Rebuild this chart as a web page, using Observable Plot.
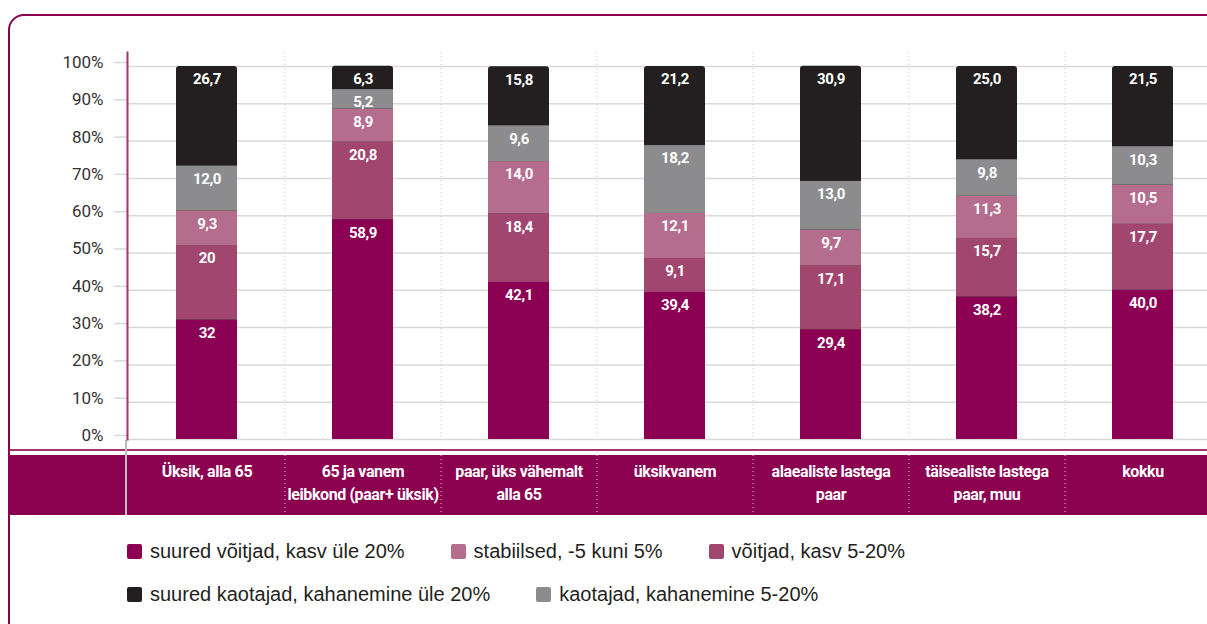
<!DOCTYPE html>
<html><head><meta charset="utf-8">
<script src="https://cdn.jsdelivr.net/npm/d3@7"></script>
<script src="https://cdn.jsdelivr.net/npm/@observablehq/plot@0.6"></script>
<style>
html,body{margin:0;padding:0;background:#fff;overflow:hidden;width:1207px;height:624px}
#wrap{position:relative;width:1207px;height:624px;overflow:hidden}
#frame{position:absolute;left:8px;top:14px;width:1400px;height:800px;border:2px solid #8c0050;border-radius:16px;box-sizing:border-box}
#bandline{position:absolute;left:10px;top:449px;width:1300px;height:2px;background:#a3306f}
#band{position:absolute;left:10px;top:455px;width:1300px;height:60px;background:#8c0050}
#bandsep{position:absolute;left:125px;top:440px;width:2px;height:75px;background:#bdbdbd}
#chart{position:absolute;left:0;top:0}
#legend{position:absolute;left:127px;top:538px;font-family:"Liberation Sans",Arial,sans-serif;font-size:20px;color:#231f20}
.row{display:flex;align-items:center;height:26px;margin-bottom:17px;white-space:nowrap}
.item{display:flex;align-items:center;margin-right:46px}
.sw{width:15px;height:15px;border-radius:2px;margin-right:8px}
.tight text{letter-spacing:-0.4px}
</style></head>
<body><div id="wrap">
<div id="frame"></div>
<div id="bandline"></div>
<div id="band"></div>
<div id="bandsep"></div>
<div id="chart"></div>
<div id="legend"></div>
</div>
<script>
const categories = ["Üksik, alla 65", "65 ja vanem\nleibkond (paar+ üksik)", "paar, üks vähemalt\nalla 65", "üksikvanem", "alaealiste lastega\npaar", "täisealiste lastega\npaar, muu", "kokku"];
const seriesNames = ["suured võitjad, kasv üle 20%", "võitjad, kasv 5-20%", "stabiilsed, -5 kuni 5%", "kaotajad, kahanemine 5-20%", "suured kaotajad, kahanemine üle 20%"];
const seriesColors = ["#8b0052", "#a0466f", "#b56d8e", "#8c8c8e", "#231f20"];
// values as printed on the bars (bottom to top)
const suuredVoitjad  = ["32",   "58,9", "42,1", "39,4", "29,4", "38,2", "40,0"];
const voitjad        = ["20",   "20,8", "18,4", "9,1",  "17,1", "15,7", "17,7"];
const stabiilsed     = ["9,3",  "8,9",  "14,0", "12,1", "9,7",  "11,3", "10,5"];
const kaotajad       = ["12,0", "5,2",  "9,6",  "18,2", "13,0", "9,8",  "10,3"];
const suuredKaotajad = ["26,7", "6,3",  "15,8", "21,2", "30,9", "25,0", "21,5"];
const yTicks = [0, 10, 20, 30, 40, 50, 60, 70, 80, 90, 100];
const legendRows = [[0, 2, 1], [4, 3]];

const seriesValues = [suuredVoitjad, voitjad, stabiilsed, kaotajad, suuredKaotajad];
const data = [];
categories.forEach((c, i) => {
  seriesValues.forEach((arr, s) => {
    data.push({category: c, series: seriesNames[s], label: arr[i], value: +arr[i].replace(",", ".")});
  });
});
const lower = data.filter(d => d.series !== seriesNames[4]);
const totals = categories.map(c => ({category: c, total: d3.sum(data.filter(d => d.category === c), d => d.value)}));

const W = 1207, H = 520, ML = 128, MR = -13, MT = 66, MB = 81;
const step = (W - ML - MR) / categories.length;
const font = "Roboto, 'Liberation Sans', sans-serif";

const chart = Plot.plot({
  width: W, height: H,
  marginLeft: ML, marginRight: MR, marginTop: MT, marginBottom: MB,
  style: {background: "transparent", fontFamily: font, overflow: "visible"},
  x: {domain: categories, paddingInner: 0.61, paddingOuter: 0.305, label: null},
  y: {domain: [0, 100], label: null},
  color: {domain: seriesNames, range: seriesColors},
  marks: [
    Plot.gridY(yTicks, {stroke: "#d9d9d9", strokeOpacity: 1, strokeWidth: 1.5}),
    Plot.axisY({ticks: yTicks, tickSize: 14, tickPadding: 11, stroke: "#d9d9d9", strokeWidth: 1.5, fill: "#333", tickFormat: d => d + "%", fontSize: 17, dy: -4, label: null}),
    Plot.ruleX(categories.slice(1), {x: d => d, dx: -step / 2, stroke: "#c8c8c8", strokeWidth: 1, strokeDasharray: "1,3", insetTop: -14}),
    Plot.ruleX(categories.slice(1), {x: d => d, dx: -step / 2, stroke: "#e8c8d8", strokeWidth: 1, strokeDasharray: "1,3", insetTop: 389, insetBottom: -76}),
    Plot.frame({anchor: "left", stroke: "#a3306f", strokeWidth: 2, dx: -1, insetTop: -14}),
    Plot.barY(totals, {x: "category", y: "total", fill: seriesColors[4], rx: 3}),
    Plot.barY(lower, Plot.stackY({x: "category", y: "value", fill: "series"})),
    Plot.text(data, Plot.stackY2({x: "category", y: "value", z: "series", text: "label", dy: 13, fill: "white", fontSize: 15, fontWeight: "bold", className: "tight"})),
    Plot.axisX({anchor: "bottom", tickSize: 0, tickPadding: 21, fill: "white", fontSize: 16, fontWeight: "bold", lineHeight: 1.44, label: null, className: "tight"})
  ]
});
document.getElementById("chart").appendChild(chart);

const legend = d3.select("#legend");
legendRows.forEach(r => {
  const row = legend.append("div").attr("class", "row");
  r.forEach(s => {
    const it = row.append("div").attr("class", "item");
    it.append("div").attr("class", "sw").style("background", seriesColors[s]);
    it.append("span").text(seriesNames[s]);
  });
});
</script>
</body></html>
